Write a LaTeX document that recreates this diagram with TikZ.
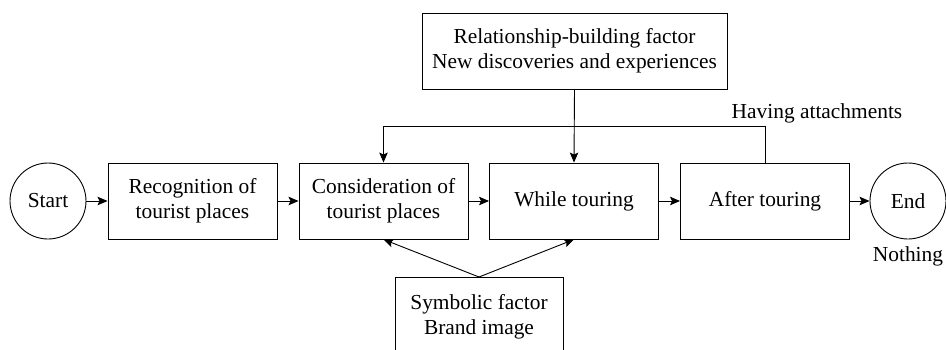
\documentclass[tikz,border=0pt]{standalone}
\usepackage{fontspec}
\setmainfont{Liberation Serif}
\usetikzlibrary{arrows.meta}
\begin{document}
\begin{tikzpicture}[x=1pt,y=-1pt,
  every node/.style={font=\fontsize{21.4}{25}\selectfont, align=center},
  procbox/.style={draw, line width=0.9pt, minimum width=169pt, minimum height=76pt, inner sep=0pt},
  termcircle/.style={draw, circle, line width=0.9pt, minimum size=76pt, inner sep=0pt},
  arr/.style={line width=0.9pt, -{Stealth[length=10pt,width=8.5pt,inset=2pt]}},
  plainline/.style={line width=0.9pt}]
\useasboundingbox (0,0) rectangle (946,349);
\clip (0,0) rectangle (946,349);
\node[termcircle] (start) at (48,201) {Start};
\node[procbox] (rec) at (192.5,201) {Recognition of\\tourist places};
\node[procbox] (cons) at (383.5,201) {Consideration of\\tourist places};
\node[procbox] (while) at (574,201) {While touring};
\node[procbox] (after) at (765,201) {After touring};
\node[termcircle] (end) at (908,201) {End};
\node (nothing) at (908,256) {Nothing};
\node[draw, line width=0.9pt, minimum width=305pt, minimum height=76pt, inner sep=0pt] (rel) at (574.5,51) {Relationship-building factor\\New discoveries and experiences};
\node (having) at (817,113) {Having attachments};
\node[draw, line width=0.9pt, minimum width=168pt, inner xsep=0pt, inner ysep=17pt, anchor=north] (sym) at (479,277) {Symbolic factor\\Brand image};
\coordinate (fb) at (0,126);
\draw[arr] (start) -- (rec);
\draw[arr] (rec) -- (cons);
\draw[arr] (cons) -- (while);
\draw[arr] (while) -- (after);
\draw[arr] (after) -- (end);
\draw[arr] (rel.south) -- (while.north);
\draw[arr] (after.north) -- (after.north |- fb) -| (cons.north);
\draw[arr] (sym.north) -- (cons.south);
\draw[arr] (sym.north) -- (while.south);
\end{tikzpicture}
\end{document}
